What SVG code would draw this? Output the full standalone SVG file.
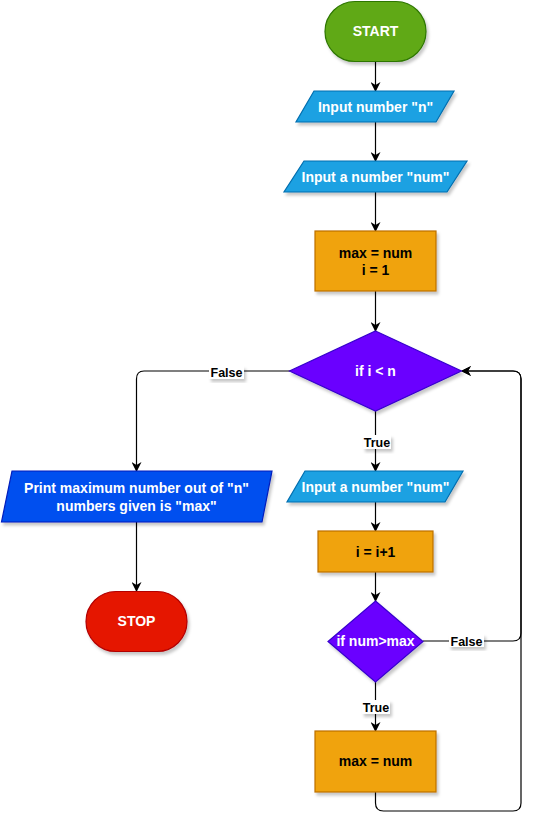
<svg xmlns="http://www.w3.org/2000/svg" width="541" height="831" viewBox="0 0 541 831">
<defs>
<filter id="sh" x="-20%" y="-20%" width="140%" height="150%">
<feDropShadow dx="2" dy="3" stdDeviation="1.5" flood-color="#000" flood-opacity="0.22"/>
</filter>
<marker id="arr" viewBox="0 0 10 10" refX="9" refY="5" markerWidth="10" markerHeight="10" markerUnits="userSpaceOnUse" orient="auto">
<path d="M0,0 L10,5 L0,10 L3,5 z" fill="#000"/>
</marker>
</defs>
<style>
.t{font-family:"Liberation Sans",Arial,sans-serif;font-weight:bold;font-size:14px;text-anchor:middle}
.w{fill:#fff}
.k{fill:#000}
.lbl{font-family:"Liberation Sans",Arial,sans-serif;font-weight:bold;font-size:12.5px;text-anchor:middle;fill:#000}
.e{fill:none;stroke:#000;stroke-width:1.2}
</style>
<rect width="541" height="831" fill="#fff"/>
<g id="connectors">
<path class="e" d="M375.5,61 V91" marker-end="url(#arr)"/>
<path class="e" d="M375.5,122 V161" marker-end="url(#arr)"/>
<path class="e" d="M375.5,192 V231" marker-end="url(#arr)"/>
<path class="e" d="M375.5,291 V331" marker-end="url(#arr)"/>
<path class="e" d="M375.5,411 V471" marker-end="url(#arr)"/>
<path class="e" d="M375.5,502 V531" marker-end="url(#arr)"/>
<path class="e" d="M375.5,572 V601" marker-end="url(#arr)"/>
<path class="e" d="M375.5,682 V731" marker-end="url(#arr)"/>
<path class="e" d="M375.5,792 V803 Q375.5,811 383.5,811 H513 Q521,811 521,803 V379 Q521,371 513,371 H462" marker-end="url(#arr)"/>
<path class="e" d="M423,641 H513 Q521,641 521,633 V379 Q521,371 513,371 H462" marker-end="url(#arr)"/>
<path class="e" d="M290,371 H144 Q136.5,371 136.5,379 V471" marker-end="url(#arr)"/>
<path class="e" d="M136.5,522 V591" marker-end="url(#arr)"/>
<g id="edge-labels">
<rect x="209" y="366" width="35" height="13" fill="#fff" filter="url(#sh)"/>
<text class="lbl" x="226.5" y="377">False</text>
<rect x="363" y="435" width="28" height="14" fill="#fff" filter="url(#sh)"/>
<text class="lbl" x="377" y="446.5">True</text>
<rect x="449" y="634" width="35" height="13" fill="#fff" filter="url(#sh)"/>
<text class="lbl" x="466.5" y="645.5">False</text>
<rect x="362" y="700" width="28" height="14" fill="#fff" filter="url(#sh)"/>
<text class="lbl" x="376" y="711.5">True</text>
</g>
</g>
<g id="start">
<rect x="325" y="1.5" width="101" height="60" rx="30" fill="#60a917" stroke="#2d7600" stroke-width="1.2" filter="url(#sh)"/>
<text class="t w" x="375.5" y="36">START</text>
</g>
<g id="input-n">
<path d="M314,91 H454 L436,122 H296 Z" fill="#1ba1e2" stroke="#006eaf" stroke-width="1.2" filter="url(#sh)"/>
<text class="t w" x="375.5" y="111.5">Input number "n"</text>
</g>
<g id="input-num-1">
<path d="M304,161 H467 L447,192 H284 Z" fill="#1ba1e2" stroke="#006eaf" stroke-width="1.2" filter="url(#sh)"/>
<text class="t w" x="375.5" y="181.5">Input a number "num"</text>
</g>
<g id="init">
<rect x="315" y="231" width="121" height="60" fill="#f0a30a" stroke="#bd7000" stroke-width="1.2" filter="url(#sh)"/>
<text class="t k" x="375.5" y="258">max = num</text>
<text class="t k" x="375.5" y="275">i = 1</text>
</g>
<g id="cond-i">
<path d="M375.5,331 L461.5,371 L375.5,411 L289.5,371 Z" fill="#6a00ff" stroke="#3700cc" stroke-width="1.2" filter="url(#sh)"/>
<text class="t w" x="375.5" y="376">if i &lt; n</text>
</g>
<g id="input-num-2">
<path d="M305,471 H463 L445,502 H287 Z" fill="#1ba1e2" stroke="#006eaf" stroke-width="1.2" filter="url(#sh)"/>
<text class="t w" x="375.5" y="491.5">Input a number "num"</text>
</g>
<g id="incr">
<rect x="318" y="531" width="115" height="41" fill="#f0a30a" stroke="#bd7000" stroke-width="1.2" filter="url(#sh)"/>
<text class="t k" x="375.5" y="556.5">i = i+1</text>
</g>
<g id="cond-max">
<path d="M375.5,601 L423,641.5 L375.5,682 L328,641.5 Z" fill="#6a00ff" stroke="#3700cc" stroke-width="1.2" filter="url(#sh)"/>
<text class="t w" x="375.5" y="646">if num&gt;max</text>
</g>
<g id="update">
<rect x="315" y="731" width="121" height="61" fill="#f0a30a" stroke="#bd7000" stroke-width="1.2" filter="url(#sh)"/>
<text class="t k" x="375.5" y="766">max = num</text>
</g>
<g id="print">
<path d="M12,471 H272 L262,522 H1.5 Z" fill="#0050ef" stroke="#001dbc" stroke-width="1.2" filter="url(#sh)"/>
<text class="t w" x="136.5" y="493">Print maximum number out of "n"</text>
<text class="t w" x="136.5" y="510.5">numbers given is "max"</text>
</g>
<g id="stop">
<rect x="86" y="591.5" width="101" height="60" rx="30" fill="#e51400" stroke="#b20000" stroke-width="1.2" filter="url(#sh)"/>
<text class="t w" x="136.5" y="626">STOP</text>
</g>
</svg>
